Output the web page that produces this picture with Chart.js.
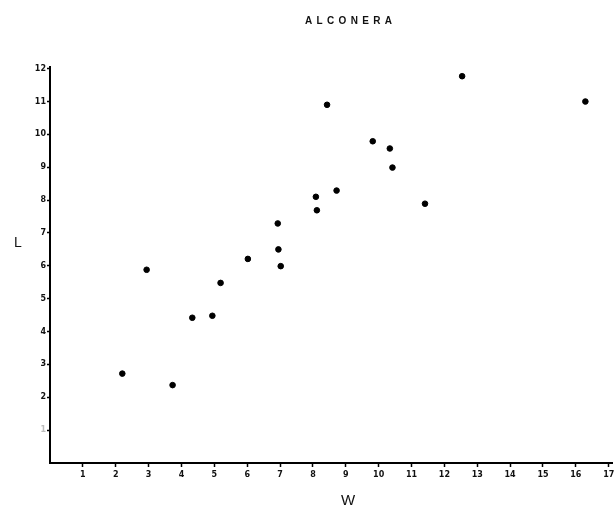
<!DOCTYPE html>
<html>
<head>
<meta charset="utf-8">
<script src="https://cdn.jsdelivr.net/npm/chart.js@4/dist/chart.umd.min.js"></script>
<style>
  html, body { margin: 0; padding: 0; background: #fff; }
  #wrap { width: 616px; height: 511px; }
</style>
</head>
<body>
<div id="wrap"><canvas id="chartAlconera" width="616" height="511"></canvas></div>
<script>
// ── Data: W (width) vs L (length), Alconera sample ──────────
const W_VALUES = [2.20, 3.73, 2.94, 4.33, 4.94, 5.19, 6.02, 6.93, 6.95, 7.02,
                  8.09, 8.12, 8.72, 8.43, 9.82, 10.34, 10.42, 11.41, 12.54, 16.29];
const L_VALUES = [2.72, 2.37, 5.88, 4.42, 4.48, 5.48, 6.21, 7.29, 6.50, 5.99,
                  8.10, 7.69, 8.29, 10.90, 9.79, 9.57, 8.99, 7.89, 11.77, 11.00];
const X_TICKS = [1, 2, 3, 4, 5, 6, 7, 8, 9, 10, 11, 12, 13, 14, 15, 16, 17];
const Y_TICKS = [1, 2, 3, 4, 5, 6, 7, 8, 9, 10, 11, 12];

const TITLE = 'ALCONERA';
const X_TITLE = 'W';
const Y_TITLE = 'L';

const points = W_VALUES.map((w, i) => ({ x: w, y: L_VALUES[i] }));
const tickFont = { family: '"DejaVu Sans", Arial, sans-serif', size: 8, weight: 'bold' };

// title and axis letters drawn straight on the canvas
const labelsPlugin = {
  id: 'labels',
  afterDraw(chart) {
    const ctx = chart.ctx;
    ctx.save();
    ctx.fillStyle = '#111';
    ctx.textBaseline = 'middle';

    ctx.font = 'bold 10px "Liberation Sans", Arial, sans-serif';
    const w = ctx.measureText(TITLE).width;
    const spacing = (87 - w) / (TITLE.length - 1);
    let x = 305;
    for (const ch of TITLE) {
      ctx.textAlign = 'left';
      ctx.fillText(ch, x, 21);
      x += ctx.measureText(ch).width + spacing;
    }

    ctx.textAlign = 'center';
    ctx.font = '15px "Liberation Sans", Arial, sans-serif';
    ctx.fillText(X_TITLE, 348, 501);
    ctx.font = '14px "Liberation Sans", Arial, sans-serif';
    ctx.fillText(Y_TITLE, 18, 243);
    ctx.restore();
  },
};

new Chart(document.getElementById('chartAlconera'), {
  type: 'scatter',
  data: {
    datasets: [{
      label: 'L',
      data: points,
      backgroundColor: '#000',
      borderColor: '#000',
      pointRadius: 2.8,
      pointHoverRadius: 3,
    }],
  },
  options: {
    responsive: false,
    animation: false,
    layout: { padding: { top: 67, right: 0, left: 0, bottom: 0 } },
    plugins: {
      legend: { display: false },
      tooltip: { enabled: false },
    },
    scales: {
      x: {
        type: 'linear',
        min: 0,
        max: 17.1,
        afterBuildTicks: s => { s.ticks = X_TICKS.map(v => ({ value: v })); },
        afterFit: s => { s.height = 48; s.paddingLeft = 0; s.paddingRight = 0; },
        border: { color: '#000', width: 2 },
        grid: { drawOnChartArea: false, color: '#000', tickLength: 4, tickWidth: 1.5 },
        ticks: { color: '#111', font: tickFont, padding: 3, maxRotation: 0, autoSkip: false },
      },
      y: {
        type: 'linear',
        min: 0,
        max: 12.05,
        afterBuildTicks: s => { s.ticks = Y_TICKS.map(v => ({ value: v })); },
        afterFit: s => { s.width = 50; s.paddingTop = 0; s.paddingBottom = 0; },
        border: { color: '#000', width: 2 },
        grid: { drawOnChartArea: false, color: '#000', tickLength: 3, tickWidth: 1.5 },
        ticks: {
          font: tickFont,
          padding: 1,
          autoSkip: false,
          color: ctx => ctx.tick && ctx.tick.value === 1 ? '#bbb' : '#111',
        },
      },
    },
  },
  plugins: [labelsPlugin],
});
</script>
</body>
</html>
